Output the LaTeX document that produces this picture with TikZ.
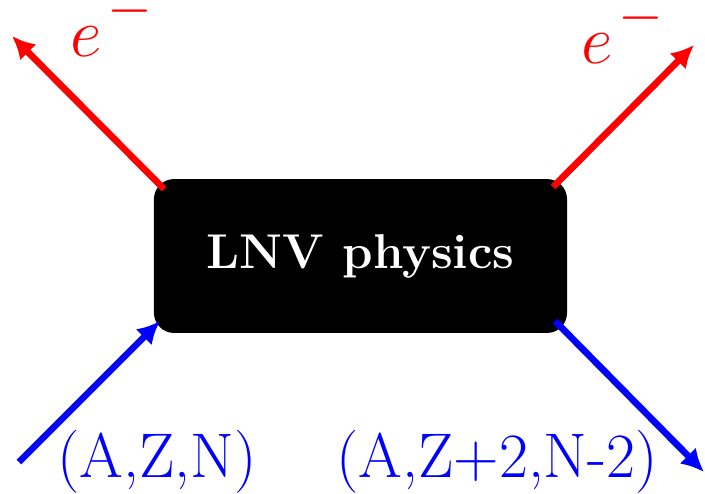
\documentclass[tikz,border=0pt]{standalone}
\usetikzlibrary{arrows.meta}
\begin{document}
\begin{tikzpicture}[x=0.36pt,y=-0.36pt,
  arr/.style={line width=2.4pt,-{Latex[length=8.2pt,width=8.2pt]}},
  lnvbox/.style={rectangle,rounded corners=7.2pt,fill=black,text=white,
    minimum width=148.7pt,minimum height=55.4pt,font=\fontsize{17.6}{21}\selectfont\bfseries,inner sep=0pt},
  lab/.style={inner sep=0pt,anchor=base west},
  elab/.style={lab,text=red,font=\Huge},
  nlab/.style={lab,text=blue,font=\fontsize{22.7}{27}\selectfont}]
\useasboundingbox (0,0) rectangle (705,493);
\node[lnvbox] (box) at (360.5,256) {LNV physics};
\coordinate (rls) at (164,189);
\coordinate (rle) at (12,36);
\coordinate (rrs) at (553,187);
\coordinate (rre) at (694,45);
\coordinate (bls) at (19,462);
\coordinate (ble) at (160,321);
\coordinate (brs) at (555,321);
\coordinate (bre) at (704,472);
\draw[arr,red] (rls) -- (rle);
\draw[arr,red] (rrs) -- (rre);
\draw[arr,blue] (bls) -- (ble);
\draw[arr,blue] (brs) -- (bre);
\node[elab] (el) at (70,56) {$e^{\kern2pt\smash{\raisebox{2pt}{$\scriptstyle-$}}}$};
\node[elab] (er) at (581,63) {$e^{\kern2pt\smash{\raisebox{2pt}{$\scriptstyle-$}}}$};
\node[nlab] (in) at (57,477) {(A,Z,N)};
\node[nlab] (out) at (336,477) {(A,Z+2,N-2)};
\end{tikzpicture}
\end{document}
